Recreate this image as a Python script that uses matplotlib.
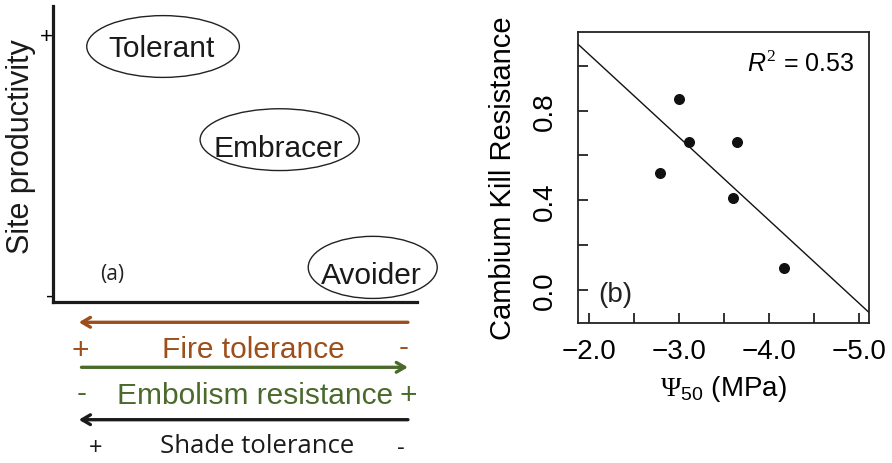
import numpy as np
import matplotlib
matplotlib.use('Agg')
import matplotlib.pyplot as plt
from matplotlib.patches import Ellipse

plt.rcParams['font.family'] = ['Liberation Sans', 'DejaVu Sans']
plt.rcParams['mathtext.fontset'] = 'custom'
plt.rcParams['mathtext.rm'] = 'Liberation Serif'
plt.rcParams['mathtext.it'] = 'Liberation Sans:italic'
plt.rcParams['mathtext.sf'] = 'Liberation Sans'

# panel (a): conceptual strategies (fire tolerance axis x, productivity y)
strategies = ['Tolerant', 'Embracer', 'Avoider']
strat_x = [0.302, 0.623, 0.879]
strat_y = [0.863, 0.548, 0.116]

# panel (b): cambium kill resistance vs P50
psi50 = [-2.79, -3.00, -3.11, -3.64, -3.60, -4.17]
ckr = [0.52, 0.85, 0.66, 0.66, 0.41, 0.10]
fit_slope, fit_icpt = 0.370, 1.791
r2 = 0.53

W, H = 892, 464
fig = plt.figure(figsize=(W / 100, H / 100), dpi=100)


def fx(x):
    return x / W


def fy(y):
    return 1 - y / H


# ---- panel (a)
ax = fig.add_axes([fx(53.3), fy(302.7), (416.7 - 53.3) / W, (302.7 - 7) / H])
ax.set_xlim(0, 1)
ax.set_ylim(0, 1)
for s in ['top', 'right']:
    ax.spines[s].set_visible(False)
for s in ['left', 'bottom']:
    ax.spines[s].set_linewidth(2.3)
    ax.spines[s].set_color('#1a1a1a')
ax.set_xticks([])
ax.set_yticks([0.905, 0.026], ['+', '-'])
ax.tick_params(axis='y', length=0, pad=0, labelsize=16)
fig.text(fx(21), fy(147), 'Site productivity', fontsize=22, rotation=90,
         ha='center', va='center', color='#1a1a1a')

ell_w = [0.42, 0.438, 0.355]
ell_h = [0.209, 0.209, 0.21]
txt_dy = [-0.006, -0.028, -0.026]
for name, x, y, w, h, dy in zip(strategies, strat_x, strat_y, ell_w, ell_h, txt_dy):
    ax.add_patch(Ellipse((x, y), w, h, fill=False, lw=1.0, ec='#222222', clip_on=False))
    ax.text(x - 0.005, y + dy, name, ha='center', va='center', fontsize=21.5, color='#1a1a1a')
ax.text(0.163, 0.097, '(a)', ha='center', va='center', fontsize=15,
        family=['Open Sans', 'DejaVu Sans'], color='#222222')

# arrows and labels under panel (a)
brown = '#9c4f1a'
green = '#4a6a2c'
black = '#1a1a1a'
arrow_rows = [(323.3, brown, 'left'), (368.3, green, 'right'), (420.7, black, 'left')]
for y, c, d in arrow_rows:
    x0, x1 = (410.7, 76) if d == 'left' else (78.7, 410.7)
    fig.add_artist(matplotlib.patches.FancyArrowPatch(
        (fx(x0), fy(y)), (fx(x1), fy(y)), transform=fig.transFigure,
        arrowstyle='->,head_length=6,head_width=3.5', color=c, lw=2.4,
        mutation_scale=1))

fs = 21.5
fig.text(fx(80), fy(351), '+', color=brown, fontsize=fs, ha='center', va='center')
fig.text(fx(253), fy(350), 'Fire tolerance', color=brown, fontsize=fs, ha='center', va='center')
fig.text(fx(404), fy(348), '-', color=brown, fontsize=fs, ha='center', va='center')
fig.text(fx(82), fy(394), '-', color=green, fontsize=fs, ha='center', va='center')
fig.text(fx(255), fy(396), 'Embolism resistance', color=green, fontsize=fs, ha='center', va='center')
fig.text(fx(408), fy(396), '+', color=green, fontsize=fs, ha='center', va='center')
sfont = ['Open Sans', 'DejaVu Sans']
fig.text(fx(96), fy(449), '+', color=black, fontsize=17, ha='center', va='center', family=sfont)
fig.text(fx(257), fy(447), 'Shade tolerance', color=black, fontsize=18.5, ha='center', va='center', family=sfont)
fig.text(fx(401), fy(449), '-', color=black, fontsize=17, ha='center', va='center', family=sfont)

# ---- panel (b)
bx = fig.add_axes([fx(577.7), fy(324), (869.3 - 577.7) / W, (324 - 33.3) / H])
bx.scatter(psi50, ckr, s=48, color='#111111', zorder=3)
xl = np.array([-1.875, -5.114])
bx.plot(xl, fit_slope * xl + fit_icpt, color='#111111', lw=1.0)
bx.set_xlim(-1.875, -5.114)
bx.set_ylim(-0.147, 1.149)
bx.set_xticks([-2.0, -2.5, -3.0, -3.5, -4.0, -4.5, -5.0],
              ['\u22122.0', '', '\u22123.0', '', '\u22124.0', '', '\u22125.0'])
bx.set_yticks([0.0, 0.2, 0.4, 0.6, 0.8, 1.0], ['0.0', '', '0.4', '', '0.8', ''])
bx.tick_params(direction='in', length=7, width=1.3, labelsize=20, color='#222222')
bx.tick_params(axis='x', pad=11)
bx.tick_params(axis='y', labelrotation=90, pad=14)
for lab in bx.get_yticklabels():
    lab.set_va('center')
for s in bx.spines.values():
    s.set_linewidth(1.3)
    s.set_color('#222222')
bx.set_ylabel('Cambium Kill Resistance', fontsize=21, labelpad=11)
bx.set_xlabel(r'$\Psi_{\mathsf{50}}$ (MPa)', fontsize=20, labelpad=6)
bx.text(0.95, 0.895, r'$R^2$' + ' = %.2f' % r2, transform=bx.transAxes, ha='right',
        va='center', fontsize=18)
bx.text(0.07, 0.10, '(b)', transform=bx.transAxes, ha='left', va='center', fontsize=20,
        color='#222222')

fig.savefig('out.png', dpi=100)
